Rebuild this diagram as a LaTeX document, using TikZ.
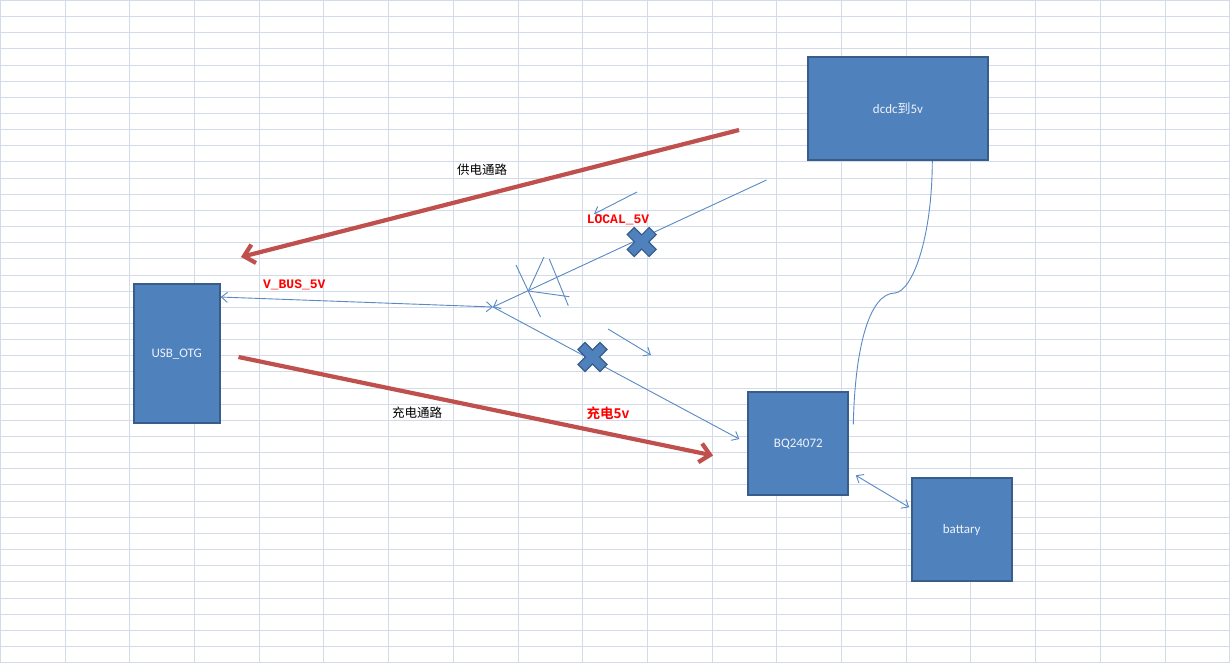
\documentclass[tikz,border=0pt]{standalone}
\usepackage{fontspec}
\setmainfont{Carlito}
\newfontfamily\cjk{Noto Sans CJK SC}[BoldFont={Noto Sans CJK SC Bold}]
\newfontfamily\monof{Liberation Mono}
\usetikzlibrary{arrows.meta,calc}
\definecolor{gridc}{HTML}{D3DAE8}
\definecolor{boxfill}{HTML}{4F81BD}
\definecolor{boxdraw}{HTML}{385D8A}
\definecolor{boxtext}{HTML}{EEF3FA}
\definecolor{connc}{HTML}{5A89C4}
\definecolor{redc}{HTML}{C0504D}
\tikzset{
  box/.style={draw=boxdraw, fill=boxfill, line width=2pt, inner sep=0pt, text=boxtext, font=\fontsize{13}{15}\selectfont},
  conn/.style={draw=connc, line width=0.9pt},
  btip/.tip={Straight Barb[length=6pt,width=10pt]},
  redarrow/.style={draw=redc, line width=4.2pt, -{Straight Barb[length=10pt,width=19pt]},
    preaction={draw=black!35, opacity=0.35, transform canvas={shift={(1.5,1.5)}}}},
  cnlabel/.style={font=\cjk\fontsize{12.5}{14}\selectfont, text=black, inner sep=0pt},
  redlabel/.style={font=\monof\bfseries\fontsize{13}{15}\selectfont, text=red, inner sep=0pt},
  redcnlabel/.style={font=\cjk\bfseries\fontsize{13.5}{15}\selectfont, text=red, inner sep=0pt},
  xcross/.pic={\filldraw[fill=boxfill, draw=boxdraw, line width=1.2pt, rotate=45]
     (-5,-15.5) -- (5,-15.5) -- (5,-5) -- (15.5,-5) -- (15.5,5) -- (5,5) -- (5,15.5)
     -- (-5,15.5) -- (-5,5) -- (-15.5,5) -- (-15.5,-5) -- (-5,-5) -- cycle;}
}
\begin{document}
\begin{tikzpicture}[x=1pt,y=-1pt]
\useasboundingbox (0,0) rectangle (1230,663);
\fill[white] (0,0) rectangle (1230,663);
% spreadsheet grid
\foreach \i in {0,...,41} {
  \pgfmathsetmacro{\yy}{round(\i*16.15)+0.5}
  \draw[gridc, line width=1pt] (0,\yy) -- (1230,\yy);
}
\foreach \i in {0,...,19} {
  \pgfmathsetmacro{\xx}{round(\i*64.7)+0.5}
  \draw[gridc, line width=1.2pt] (\xx,0) -- (\xx,663);
}
\draw[gridc, line width=1.2pt] (0.5,0.5) rectangle (1229.5,662.5);

% boxes
\node[box, minimum width=180.6pt, minimum height=103pt] (dcdc) at (898,108.5) {dcdc{\cjk 到}5v};
\node[box, minimum width=86pt, minimum height=138.7pt] (usb) at (176.7,353.7) {USB\_OTG};
\node[box, minimum width=100pt, minimum height=103.3pt] (bq) at (798.3,443.7) {BQ24072};
\node[box, minimum width=100pt, minimum height=103pt] (bat) at (961.7,529.8) {battary};

% thin connectors
\coordinate (j) at (493,307);
\coordinate (lsrc) at (766.5,180);
\draw[conn, -btip] (lsrc) -- (j);
\draw[conn, btip-btip] ($(usb.north east)+(0,13.7)$) -- (j);
\draw[conn, -btip] (j) -- ($(bq.north west)+(-8,48)$);
\coordinate (a1s) at (637,192);
\coordinate (a1e) at (594,214);
\draw[conn, -btip] (a1s) -- (a1e);
\coordinate (a2s) at (608,329);
\coordinate (a2e) at (651,355);
\draw[conn, -btip] (a2s) -- (a2e);
\draw[conn, btip-btip] ($(bq.south east)+(6.5,-21)$) -- ($(bat.north west)+(-1.5,30)$);
\draw[conn] ($(bq.north east)+(4,33.3)$) .. controls (855,345) and (870,293) .. (895,293)
   .. controls (912,291) and (932,240) .. ($(dcdc.south)+(34.3,0)$);
% scribbles
\draw[conn] (516,265) -- (540.5,317);
\draw[conn] (544,257) -- (528.3,291) -- (569.3,296.7);
\draw[conn] (549.3,259) -- (568.3,305.7);

% red arrows
\coordinate (r1s) at (739,130);
\coordinate (r1e) at (241,257);
\draw[redarrow] (r1s) -- (r1e);
\coordinate (r2s) at (238.5,357);
\coordinate (r2e) at (713,455.5);
\draw[redarrow] (r2s) -- (r2e);

% crosses
\pic at (641.7,242) {xcross};
\pic at (592.5,357) {xcross};

% labels
\node[cnlabel] (l1) at (482,170) {供电通路};
\node[cnlabel] (l2) at (417,413) {充电通路};
\node[redlabel] (l3) at (294.3,285) {V\_BUS\_5V};
\node[redlabel] (l4) at (618,219.5) {LOCAL\_5V};
\node[redcnlabel] (l5) at (608,413) {充电5v};
\end{tikzpicture}
\end{document}
